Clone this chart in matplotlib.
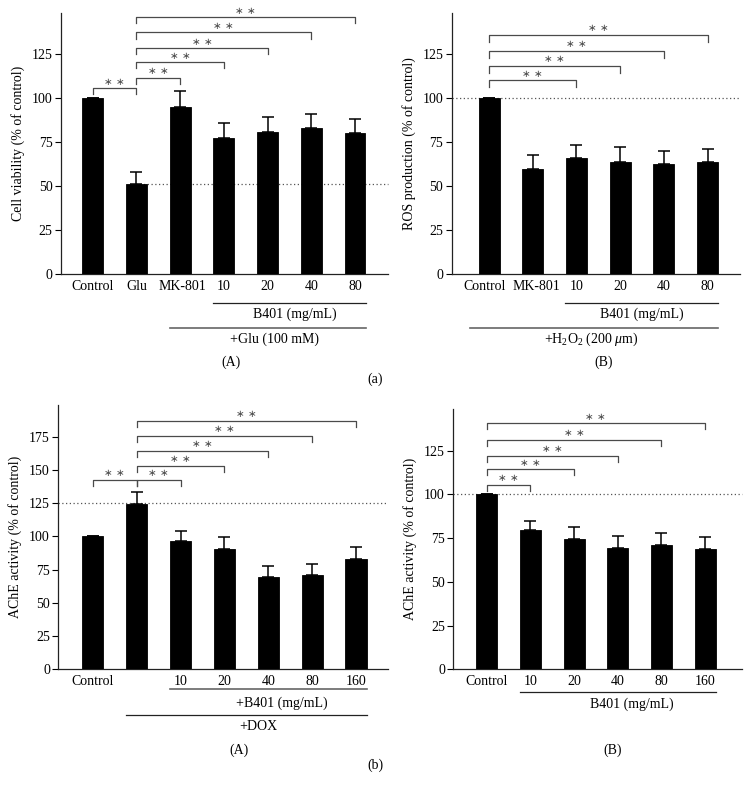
import matplotlib
matplotlib.use("Agg")
import matplotlib.pyplot as plt
import matplotlib.transforms as mtransforms
import numpy as np

plt.rcParams['font.family'] = ['Liberation Serif', 'DejaVu Serif']
plt.rcParams['mathtext.fontset'] = 'custom'
plt.rcParams['mathtext.rm'] = 'Liberation Serif'
plt.rcParams['mathtext.it'] = 'Liberation Serif:italic'

# ---------------- data ----------------
# (a)(A) cell viability
aA_labels = ["Control", "Glu", "MK-801", "10", "20", "40", "80"]
aA_values = [100, 51.3, 95, 77.3, 80.7, 83.2, 80.2]
aA_errors = [0, 6.8, 9.1, 8.9, 8.6, 7.8, 7.9]
aA_ref = 51.5
aA_brackets = [(0, 1, 105.8), (1, 2, 111.7), (1, 3, 120.6), (1, 4, 128.6), (1, 5, 137.5), (1, 6, 146.3)]
aA_yticks = [0, 25, 50, 75, 100, 125]

# (a)(B) ROS production
aB_labels = ["Control", "MK-801", "10", "20", "40", "80"]
aB_values = [100, 60, 65.9, 64, 62.5, 64]
aB_errors = [0, 7.6, 7.6, 8.2, 7.4, 7.4]
aB_ref = 100
aB_brackets = [(0, 2, 110.2), (0, 3, 118.4), (0, 4, 126.9), (0, 5, 136.0)]
aB_yticks = [0, 25, 50, 75, 100, 125]

# (b)(A) AChE activity with DOX
bA_labels = ["Control", "", "10", "20", "40", "80", "160"]
bA_values = [100, 124.3, 96.9, 90.6, 69.8, 71.1, 83.4]
bA_errors = [0, 9.5, 7.5, 8.8, 8.3, 8.5, 8.5]
bA_ref = 125
bA_brackets = [(0, 1, 142.6), (1, 2, 142.6), (1, 3, 153.2), (1, 4, 164.5), (1, 5, 175.8), (1, 6, 187.3)]
bA_yticks = [0, 25, 50, 75, 100, 125, 150, 175]

# (b)(B) AChE activity
bB_labels = ["Control", "10", "20", "40", "80", "160"]
bB_values = [100, 79.6, 74.3, 69.4, 70.9, 68.8]
bB_errors = [0, 5.2, 7.3, 6.8, 7.0, 7.0]
bB_ref = 100
bB_brackets = [(0, 1, 105.4), (0, 2, 114.3), (0, 3, 122.1), (0, 4, 131.1), (0, 5, 140.6)]
bB_yticks = [0, 25, 50, 75, 100, 125]

W, H = 750, 800
fig = plt.figure(figsize=(7.5, 8), dpi=100)

def place(l, r, top, bot):
    return fig.add_axes([l / W, 1 - bot / H, (r - l) / W, (bot - top) / H])

GRAY = "#4a4a4a"
FS = 10

def panel(ax, labels, values, errors, yticks, ylim, xlim, ylabel, brackets, drop, ref, ref_x0):
    x = np.arange(len(values))
    ax.bar(x, values, width=0.48, color="black", edgecolor="black", linewidth=0.6, zorder=3)
    ax.errorbar(x, values, yerr=[np.zeros(len(errors)), errors], fmt="none", ecolor="black",
                elinewidth=1.1, capsize=4.5, capthick=1.1, zorder=2)
    ax.set_xlim(*xlim)
    ax.set_ylim(*ylim)
    ax.set_yticks(yticks)
    ax.set_xticks(x)
    ax.set_xticklabels(labels, fontsize=FS)
    ax.tick_params(axis="x", length=0, pad=4)
    ax.tick_params(axis="y", length=4, width=0.8, labelsize=FS, pad=2, direction="out")
    for s in ("top", "right"):
        ax.spines[s].set_visible(False)
    for s in ("left", "bottom"):
        ax.spines[s].set_linewidth(0.9)
        ax.spines[s].set_color("#222222")
    ax.spines["left"].set_bounds(0, ylim[1])
    ax.set_ylabel(ylabel, fontsize=FS, labelpad=5)
    # reference dotted line
    ax.plot([ref_x0, xlim[1]], [ref, ref], linestyle=(0, (1, 2)), color="#555555", linewidth=0.9,
            zorder=1, clip_on=False)
    for (a, b, y) in brackets:
        ax.plot([a, a, b, b], [y - drop, y, y, y - drop], color=GRAY, linewidth=0.9, zorder=4,
                clip_on=False)
        ax.text((a + b) / 2, y + drop * 0.25, "∗ ∗", ha="center", va="bottom", fontsize=7.5,
                color=GRAY, family=['DejaVu Sans'])

def shift_label(ax, idx, dx_px):
    lab = ax.get_xticklabels()[idx]
    lab.set_transform(lab.get_transform() + mtransforms.ScaledTranslation(dx_px / 100, 0, fig.dpi_scale_trans))

def group(ax, x0, x1, ypix, text, tx, typix, lw=0.9, color="#222222"):
    tr = mtransforms.blended_transform_factory(ax.transData, fig.transFigure)
    ax.plot([x0, x1], [1 - ypix / H, 1 - ypix / H], transform=tr, color=color, linewidth=lw,
            clip_on=False)
    ax.text(tx, 1 - typix / H, text, transform=tr, ha="center", va="center", fontsize=FS)

# (a)(A)
axA = place(61, 388, 13, 274)
panel(axA, aA_labels, aA_values, aA_errors, aA_yticks, (0, 148.6), (-0.725, 6.755),
      "Cell viability (% of control)", aA_brackets, 3.5, aA_ref, 1)
shift_label(axA, 2, 2)
group(axA, 2.75, 6.26, 303, "B401 (mg/mL)", 4.63, 314)
group(axA, 1.76, 6.26, 328, "+Glu (100 mM)", 4.15, 339, color="#666666", lw=1.2)

# (a)(B)
axB = place(451.7, 740, 13, 274)
panel(axB, aB_labels, aB_values, aB_errors, aB_yticks, (0, 148.6), (-0.854, 5.74),
      "ROS production (% of control)", aB_brackets, 3.8, aB_ref, -0.854)
shift_label(axB, 0, -4)
shift_label(axB, 1, 4)
group(axB, 1.74, 5.24, 303, "B401 (mg/mL)", 3.5, 314)
group(axB, -0.43, 5.24, 328, "+H$_2$O$_2$ (200 $\\mathit{\\mu}$m)", 2.35, 339, color="#666666", lw=1.2)

# (b)(A)
axC = place(58.3, 388, 405, 669.3)
panel(axC, bA_labels, bA_values, bA_errors, bA_yticks, (0, 199), (-0.79, 6.73),
      "AChE activity (% of control)", bA_brackets, 4.8, bA_ref, -0.79)
group(axC, 1.76, 6.26, 689, "+B401 (mg/mL)", 4.31, 703, color="#666666", lw=1.2)
group(axC, 0.76, 6.26, 715, "+DOX", 3.77, 726)

# (b)(B)
axD = place(453.3, 741.7, 409, 669.3)
panel(axD, bB_labels, bB_values, bB_errors, bB_yticks, (0, 148.8), (-0.765, 5.84),
      "AChE activity (% of control)", bB_brackets, 3.5, bB_ref, -0.765)
group(axD, 0.76, 5.24, 691.7, "B401 (mg/mL)", 3.33, 704)

# panel captions
fig.text(231 / W, 1 - 362 / H, "(A)", ha="center", va="center", fontsize=FS)
fig.text(604 / W, 1 - 362 / H, "(B)", ha="center", va="center", fontsize=FS)
fig.text(375 / W, 1 - 379 / H, "(a)", ha="center", va="center", fontsize=FS)
fig.text(239 / W, 1 - 750 / H, "(A)", ha="center", va="center", fontsize=FS)
fig.text(613 / W, 1 - 750 / H, "(B)", ha="center", va="center", fontsize=FS)
fig.text(375 / W, 1 - 765 / H, "(b)", ha="center", va="center", fontsize=FS)

fig.savefig("out.png", dpi=100, facecolor="white")
